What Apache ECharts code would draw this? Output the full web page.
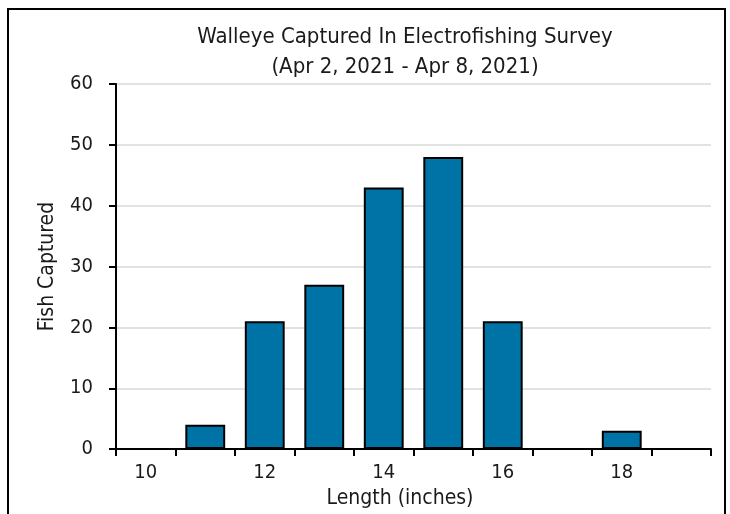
<!DOCTYPE html>
<html><head><meta charset="utf-8">
<script src="https://cdn.jsdelivr.net/npm/echarts@6/dist/echarts.min.js"></script>
<style>html,body{margin:0;padding:0;background:#fff}#c{width:730px;height:514px}</style>
</head><body><div id="c"></div>
<script>
const categories = ['10','11','12','13','14','15','16','17','18','19'];
const fishCaptured = [0, 4, 21, 27, 43, 48, 21, 0, 3, 0];
const titleText = 'Walleye Captured In Electrofishing Survey\n(Apr 2, 2021 - Apr 8, 2021)';
const FONT = '"DejaVu Sans Condensed", "Liberation Sans Narrow", sans-serif';
const chart = echarts.init(document.getElementById('c'), null, {renderer:'canvas'});
chart.setOption({
  animation:false,
  backgroundColor:'#fff',
  title:{text:titleText,left:400,top:17,textAlign:'center',
    textStyle:{fontFamily:FONT,fontSize:22,fontWeight:'normal',color:'#1a1a1a',lineHeight:30}},
  graphic:[{type:'rect',shape:{x:8,y:9,width:717,height:520},style:{fill:'none',stroke:'#000',lineWidth:2},silent:true}],
  grid:{left:116,right:19,top:84,bottom:62,containLabel:false},
  xAxis:{type:'category',data:categories,name:'Length (inches)',nameLocation:'middle',nameGap:34,
    nameTextStyle:{fontFamily:FONT,fontSize:21,color:'#1a1a1a',padding:[0,27,0,0]},
    axisLine:{lineStyle:{color:'#000',width:2}},
    axisTick:{show:true,interval:0,alignWithLabel:false,length:7,lineStyle:{color:'#000',width:2}},
    axisLabel:{interval:1,fontFamily:FONT,fontSize:20,color:'#1a1a1a',margin:14}},
  yAxis:{type:'value',min:0,max:60,interval:10,name:'Fish Captured',nameLocation:'middle',nameGap:58,
    nameTextStyle:{fontFamily:FONT,fontSize:21,color:'#1a1a1a'},
    axisLine:{show:true,lineStyle:{color:'#000',width:2}},
    axisTick:{show:true,length:7,lineStyle:{color:'#000',width:2}},
    axisLabel:{fontFamily:FONT,fontSize:20,color:'#1a1a1a',margin:23},
    splitLine:{lineStyle:{color:'#d9d9d9',width:1.5}}},
  series:[{type:'bar',data:fishCaptured,barWidth:'67%',
    itemStyle:{color:'#0073A6',borderColor:'#000',borderWidth:2}}]
});
</script></body></html>
